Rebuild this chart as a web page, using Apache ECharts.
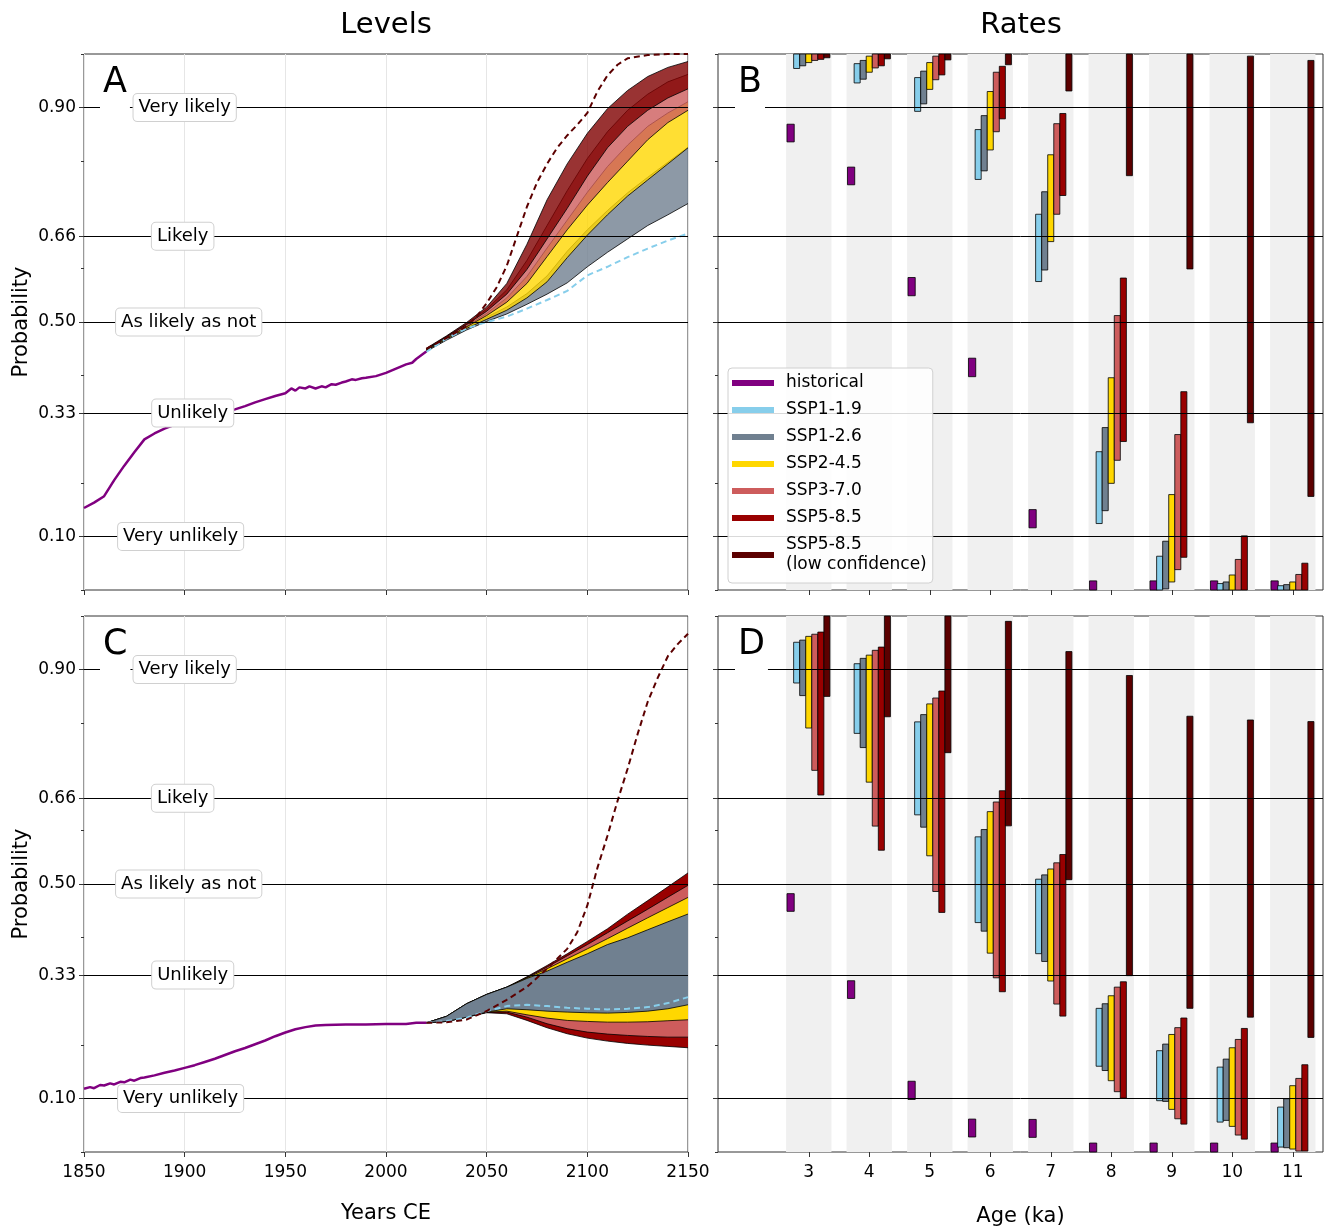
<!DOCTYPE html>
<html>
<head>
<meta charset="utf-8">
<title>Levels and rates</title>
<script src="https://cdn.jsdelivr.net/npm/echarts@6/dist/echarts.min.js"></script>
<style>
  html, body { margin: 0; padding: 0; background: #fff; }
  #chart { width: 1327px; height: 1226px; }
</style>
</head>
<body>
<div id="chart"></div>
<script>
// ---- shared axis values ----
const levelValues = [0.10, 0.33, 0.50, 0.66, 0.90];
const levelNames = ["Very unlikely", "Unlikely", "As likely as not", "Likely", "Very likely"];
const levelLabelYears = [1898, 1904, 1902, 1899, 1900];
const minorTickValues = [0, 0.2, 0.4, 0.6, 0.8, 1.0];
const ages = [3, 4, 5, 6, 7, 8, 9, 10, 11];

// ---- panel A: levels, warming scenario ----
const aHistYears = [1850, 1855, 1860, 1865, 1870, 1875, 1880, 1885, 1890, 1895, 1900, 1905, 1910, 1915, 1920, 1925, 1930, 1935, 1940, 1945, 1950, 1953, 1955, 1957, 1960, 1962, 1965, 1968, 1970, 1973, 1975, 1978, 1980, 1983, 1985, 1988, 1990, 1995, 2000, 2005, 2010, 2013, 2015, 2020];
const aHistValues = [0.153, 0.163, 0.175, 0.205, 0.232, 0.257, 0.281, 0.292, 0.301, 0.308, 0.313, 0.318, 0.323, 0.328, 0.332, 0.337, 0.343, 0.350, 0.356, 0.362, 0.367, 0.376, 0.372, 0.378, 0.376, 0.380, 0.376, 0.380, 0.378, 0.384, 0.383, 0.387, 0.389, 0.393, 0.392, 0.395, 0.396, 0.399, 0.405, 0.413, 0.421, 0.424, 0.431, 0.445];
const projYears = [2020, 2030, 2040, 2050, 2060, 2070, 2080, 2090, 2100, 2110, 2120, 2130, 2140, 2150];
const a119 = [0.444, 0.469, 0.488, 0.500, 0.510, 0.525, 0.541, 0.558, 0.587, 0.603, 0.621, 0.637, 0.652, 0.665];
const a126Lo = [0.445, 0.466, 0.485, 0.501, 0.515, 0.533, 0.552, 0.573, 0.603, 0.630, 0.655, 0.680, 0.700, 0.721];
const a126Hi = [0.447, 0.469, 0.490, 0.509, 0.528, 0.553, 0.586, 0.632, 0.672, 0.708, 0.741, 0.770, 0.798, 0.826];
const a245Lo = [0.447, 0.468, 0.488, 0.505, 0.522, 0.545, 0.575, 0.620, 0.662, 0.700, 0.735, 0.765, 0.795, 0.825];
const a245Hi = [0.449, 0.471, 0.493, 0.516, 0.545, 0.585, 0.638, 0.690, 0.742, 0.790, 0.830, 0.865, 0.890, 0.911];
const a370Lo = [0.448, 0.470, 0.491, 0.512, 0.537, 0.572, 0.622, 0.672, 0.718, 0.760, 0.800, 0.840, 0.872, 0.895];
const a370Hi = [0.450, 0.473, 0.497, 0.524, 0.560, 0.615, 0.680, 0.745, 0.805, 0.855, 0.895, 0.925, 0.948, 0.962];
const a585Lo = [0.449, 0.472, 0.495, 0.520, 0.552, 0.598, 0.655, 0.712, 0.772, 0.825, 0.865, 0.895, 0.918, 0.935];
const a585Hi = [0.451, 0.474, 0.499, 0.528, 0.572, 0.645, 0.728, 0.795, 0.852, 0.898, 0.932, 0.958, 0.975, 0.986];
const aLowConfYears = [2020, 2030, 2040, 2045, 2050, 2055, 2060, 2065, 2070, 2075, 2080, 2085, 2090, 2095, 2100, 2105, 2110, 2115, 2120, 2130, 2140, 2150];
const aLowConf = [0.450, 0.470, 0.492, 0.510, 0.535, 0.565, 0.605, 0.660, 0.715, 0.760, 0.795, 0.825, 0.848, 0.868, 0.890, 0.930, 0.960, 0.980, 0.992, 0.998, 1.0, 1.0];

// ---- panel C: levels, second indicator ----
const cHistYears = [1850, 1853, 1855, 1858, 1860, 1863, 1865, 1868, 1870, 1873, 1875, 1878, 1880, 1885, 1890, 1895, 1900, 1905, 1910, 1915, 1920, 1925, 1930, 1935, 1940, 1945, 1950, 1955, 1960, 1965, 1970, 1980, 1990, 2000, 2010, 2015, 2020];
const cHistValues = [0.118, 0.121, 0.119, 0.125, 0.124, 0.128, 0.126, 0.131, 0.130, 0.135, 0.133, 0.138, 0.139, 0.143, 0.148, 0.152, 0.157, 0.162, 0.168, 0.174, 0.181, 0.188, 0.194, 0.201, 0.208, 0.216, 0.223, 0.229, 0.233, 0.236, 0.237, 0.238, 0.238, 0.239, 0.239, 0.241, 0.241];
const c119 = [0.241, 0.2442, 0.2505, 0.2628, 0.2722, 0.2747, 0.2722, 0.2691, 0.2672, 0.266, 0.2672, 0.2703, 0.2778, 0.2889];
const c126Lo = [0.241, 0.2436, 0.2516, 0.261, 0.2672, 0.2654, 0.2628, 0.261, 0.2598, 0.2591, 0.2604, 0.2628, 0.2672, 0.2747];
const c126Hi = [0.241, 0.253, 0.2766, 0.294, 0.3076, 0.3238, 0.3374, 0.354, 0.3698, 0.387, 0.3996, 0.4146, 0.4295, 0.444];
const c245Lo = [0.241, 0.2436, 0.2516, 0.261, 0.2628, 0.256, 0.2498, 0.2455, 0.2436, 0.2423, 0.2423, 0.243, 0.2449, 0.2467];
const c245Hi = [0.241, 0.253, 0.2766, 0.294, 0.3076, 0.325, 0.3418, 0.3605, 0.379, 0.398, 0.4176, 0.437, 0.456, 0.475];
const c370Lo = [0.241, 0.2436, 0.2516, 0.261, 0.261, 0.2516, 0.2393, 0.23, 0.2237, 0.22, 0.2175, 0.2156, 0.2143, 0.2143];
const c370Hi = [0.241, 0.253, 0.2766, 0.294, 0.3076, 0.326, 0.345, 0.366, 0.387, 0.409, 0.431, 0.453, 0.4754, 0.4975];
const c585Lo = [0.241, 0.2436, 0.2516, 0.2598, 0.2579, 0.2455, 0.2318, 0.2206, 0.2125, 0.2069, 0.2026, 0.1994, 0.197, 0.1945];
const c585Hi = [0.241, 0.253, 0.2766, 0.294, 0.3076, 0.327, 0.348, 0.3698, 0.3928, 0.4164, 0.4437, 0.469, 0.4947, 0.5207];
const cLowConfYears = [2020, 2030, 2040, 2050, 2060, 2070, 2080, 2090, 2095, 2100, 2105, 2110, 2115, 2120, 2125, 2130, 2135, 2140, 2145, 2150];
const cLowConf = [0.241, 0.242, 0.247, 0.263, 0.284, 0.308, 0.342, 0.379, 0.41, 0.46, 0.53, 0.59, 0.655, 0.715, 0.78, 0.84, 0.885, 0.925, 0.948, 0.967];

// ---- panel B: rates, [low, high] per age ----
const bHistorical = [[0.836, 0.869], [0.756, 0.789], [0.549, 0.583], [0.398, 0.4325], [0.116, 0.150], [0, 0.017], [0, 0.017], [0, 0.017], [0, 0.017]];
const bSsp119 = [[0.973, 1.0], [0.946, 0.982], [0.893, 0.956], [0.766, 0.859], [0.5755, 0.701], [0.124, 0.258], [0, 0.063], [0, 0.012], [0, 0.008]];
const bSsp126 = [[0.978, 1.0], [0.953, 0.988], [0.907, 0.968], [0.782, 0.885], [0.597, 0.743], [0.148, 0.303], [0.002, 0.091], [0, 0.015], [0, 0.010]];
const bSsp245 = [[0.984, 1.0], [0.966, 0.996], [0.934, 0.984], [0.821, 0.930], [0.650, 0.812], [0.199, 0.396], [0.015, 0.178], [0, 0.028], [0, 0.015]];
const bSsp370 = [[0.988, 1.0], [0.974, 1.0], [0.952, 0.996], [0.855, 0.966], [0.701, 0.870], [0.242, 0.512], [0.038, 0.290], [0, 0.057], [0, 0.029]];
const bSsp585 = [[0.990, 1.0], [0.978, 1.0], [0.961, 1.0], [0.879, 0.977], [0.736, 0.889], [0.277, 0.582], [0.061, 0.370], [0, 0.101], [0, 0.050]];
const bSsp585Low = [[0.993, 1.0], [0.991, 1.0], [0.989, 1.0], [0.980, 1.0], [0.931, 1.0], [0.773, 1.0], [0.599, 1.0], [0.312, 0.996], [0.1746, 0.988]];

// ---- panel D: rates, [low, high] per age ----
const dHistorical = [[0.449, 0.482], [0.2865, 0.3195], [0.098, 0.132], [0.028, 0.0614], [0.0273, 0.0608], [0, 0.0167], [0, 0.0167], [0, 0.0167], [0, 0.0167]];
const dSsp119 = [[0.875, 0.951], [0.781, 0.911], [0.629, 0.8025], [0.428, 0.588], [0.370, 0.509], [0.160, 0.268], [0.0957, 0.189], [0.0558, 0.1584], [0.0092, 0.0838]];
const dSsp126 = [[0.8515, 0.955], [0.7545, 0.921], [0.606, 0.816], [0.412, 0.6016], [0.3555, 0.517], [0.152, 0.2766], [0.0944, 0.2013], [0.059, 0.1733], [0.008, 0.0994]];
const dSsp245 = [[0.791, 0.962], [0.690, 0.927], [0.5526, 0.836], [0.371, 0.635], [0.319, 0.528], [0.133, 0.2915], [0.0795, 0.2193], [0.0478, 0.1945], [0.0055, 0.1237]];
const dSsp370 = [[0.712, 0.966], [0.608, 0.936], [0.486, 0.847], [0.325, 0.653], [0.276, 0.5395], [0.1125, 0.3076], [0.062, 0.232], [0.0316, 0.21], [0.0017, 0.1373]];
const dSsp585 = [[0.666, 0.970], [0.563, 0.942], [0.447, 0.860], [0.299, 0.674], [0.2535, 0.555], [0.1006, 0.3176], [0.052, 0.25], [0.024, 0.2305], [0.0017, 0.1628]];
const dSsp585Low = [[0.850, 1.0], [0.812, 1.0], [0.745, 1.0], [0.6085, 0.990], [0.508, 0.9336], [0.329, 0.889], [0.268, 0.813], [0.2516, 0.806], [0.2138, 0.803]];

// ---- styling ----
const FONT = "DejaVu Sans";
const AXIS_COLOR = "#333";
const scenarioNames = ["SSP1-1.9", "SSP1-2.6", "SSP2-4.5", "SSP3-7.0", "SSP5-8.5", "SSP5-8.5 (low confidence)"];
const scenarioColors = ["#87ceeb", "#708090", "#ffd700", "#cd5c5c", "#990000", "#5c0000"];
const histColor = "#800080";
const barOffsets = [-0.2, -0.1, 0, 0.1, 0.2, 0.3];
const histOffset = -0.3;

const chart = echarts.init(document.getElementById("chart"));

function pairs(xs, ys) {
  return xs.map((x, i) => [x, ys[i]]);
}

function lineSeries(name, grid, xs, ys, color, width, type, z) {
  return {
    name, type: "line", xAxisIndex: grid, yAxisIndex: grid,
    data: pairs(xs, ys), symbol: "none", silent: true, z, smooth: false,
    lineStyle: { color, width, type },
  };
}

// Filled band between lo and hi, drawn once as a polygon with black edges.
function bandSeries(grid, lo, hi, color, opacity) {
  return {
    type: "custom", xAxisIndex: grid, yAxisIndex: grid, silent: true, z: 2, clip: true,
    data: projYears.map((x, i) => [x, lo[i], hi[i]]),
    encode: { x: 0, y: [1, 2] },
    renderItem: (params, api) => {
      if (params.dataIndex !== 0) return null;
      const top = projYears.map((x, i) => api.coord([x, hi[i]]));
      const bottom = projYears.map((x, i) => api.coord([x, lo[i]]));
      return {
        type: "group",
        children: [
          { type: "polygon", shape: { points: top.concat(bottom.slice().reverse()) }, style: { fill: color, opacity } },
          { type: "polyline", shape: { points: top }, style: { stroke: "#000", lineWidth: 0.8, fill: null } },
          { type: "polyline", shape: { points: bottom }, style: { stroke: "#000", lineWidth: 0.8, fill: null } },
        ],
      };
    },
  };
}

// Floating [low, high] bar drawn through the axes.
function rangeSeries(name, grid, ranges, color, offset, width) {
  return {
    name, type: "custom", xAxisIndex: grid, yAxisIndex: grid, silent: true, z: 3,
    itemStyle: { color },
    data: ranges.map((r, i) => [ages[i], r[0], r[1]]),
    encode: { x: 0, y: [1, 2] },
    renderItem: (params, api) => {
      const a = api.value(0);
      const p1 = api.coord([a + offset - width / 2, api.value(2)]);
      const p2 = api.coord([a + offset + width / 2, api.value(1)]);
      return {
        type: "rect",
        shape: { x: p1[0], y: p1[1], width: p2[0] - p1[0], height: p2[1] - p1[1] },
        style: { fill: color, stroke: "rgba(0,0,0,0.8)", lineWidth: 1 },
      };
    },
  };
}

function levelLines(grid) {
  return {
    type: "line", xAxisIndex: grid, yAxisIndex: grid, data: [], silent: true, z: 1,
    markLine: {
      silent: true, symbol: ["none", "none"], label: { show: false },
      lineStyle: { color: "#000", width: 1, type: "solid" },
      emphasis: { disabled: true },
      data: levelValues.map((v) => ({ yAxis: v })),
    },
  };
}

function ageBands(grid) {
  return {
    type: "line", xAxisIndex: grid, yAxisIndex: grid, data: [], silent: true, z: 0,
    markArea: {
      silent: true, label: { show: false },
      itemStyle: { color: "#f0f0f0" },
      data: ages.map((a) => [{ xAxis: a - 0.375 }, { xAxis: a + 0.375 }]),
    },
  };
}

function levelLabels(grid) {
  return {
    type: "scatter", xAxisIndex: grid, yAxisIndex: grid, silent: true, z: 10,
    symbolSize: 1, itemStyle: { color: "rgba(0,0,0,0)" },
    data: levelValues.map((v, i) => ({ value: [levelLabelYears[i], v], label: { formatter: levelNames[i] } })),
    label: {
      show: true, position: "inside", color: "#000", opacity: 1, fontFamily: FONT, fontSize: 18,
      backgroundColor: "#fff", borderColor: "#d0d0d0", borderWidth: 1, borderRadius: 4, padding: [5, 5, 4, 5],
    },
  };
}

function yearAxis(grid, showLabels) {
  return {
    type: "value", gridIndex: grid, min: 1850, max: 2150, interval: 50,
    axisLine: { show: false },
    axisTick: { show: true, length: 5, lineStyle: { color: AXIS_COLOR } },
    axisLabel: { show: showLabels, formatter: (v) => String(v), fontFamily: FONT, fontSize: 17, color: "#000", margin: 12, showMinLabel: true, showMaxLabel: true },
    splitLine: { show: true, lineStyle: { color: "#e6e6e6", width: 1 } },
    name: showLabels ? "Years CE" : "", nameLocation: "middle", nameGap: 51,
    nameTextStyle: { fontFamily: FONT, fontSize: 21, color: "#000" },
  };
}

function ageAxis(grid, showLabels) {
  return {
    type: "value", gridIndex: grid, min: 1.5, max: 11.5,
    axisLine: { show: false },
    axisTick: { show: true, length: 5, customValues: ages, lineStyle: { color: AXIS_COLOR } },
    axisLabel: { show: showLabels, customValues: ages, fontFamily: FONT, fontSize: 17, color: "#000", margin: 12 },
    splitLine: { show: false },
    name: showLabels ? "Age (ka)" : "", nameLocation: "middle", nameGap: 54,
    nameTextStyle: { fontFamily: FONT, fontSize: 21, color: "#000" },
  };
}

function probAxis(grid, showLabels) {
  return {
    type: "value", gridIndex: grid, min: 0, max: 1, position: "left",
    axisLine: { show: false },
    axisTick: { show: true, length: 5, customValues: levelValues, lineStyle: { color: AXIS_COLOR } },
    axisLabel: { show: showLabels, customValues: levelValues, formatter: (v) => v.toFixed(2), fontFamily: FONT, fontSize: 17, color: "#000", margin: 8 },
    splitLine: { show: false },
    name: showLabels ? "Probability" : "", nameLocation: "middle", nameGap: 52, nameRotate: 90,
    nameTextStyle: { fontFamily: FONT, fontSize: 21, color: "#000" },
  };
}

function minorAxis(grid) {
  return {
    type: "value", gridIndex: grid, min: 0, max: 1, position: "left",
    axisLine: { show: false },
    axisTick: { show: true, length: 3, customValues: minorTickValues, lineStyle: { color: AXIS_COLOR } },
    axisLabel: { show: false }, splitLine: { show: false },
  };
}

function panelLetter(text, x, y) {
  return {
    type: "text", x, y, z: 100,
    style: {
      text, fill: "#000", fontFamily: FONT, fontSize: 35, lineHeight: 38,
      align: "left", verticalAlign: "top", textAlign: "left", textVerticalAlign: "top",
      backgroundColor: "#fff", padding: [3, 3, 8, 3],
    },
  };
}

function title(text, x) {
  return {
    type: "text", x, y: 25, z: 100,
    style: {
      text, fill: "#000", fontFamily: FONT, fontSize: 29,
      align: "center", verticalAlign: "middle", textAlign: "center", textVerticalAlign: "middle",
    },
  };
}

const gridBase = { show: true, borderColor: AXIS_COLOR, borderWidth: 1, backgroundColor: "transparent", containLabel: false, outerBoundsMode: "none" };

const series = [
  // Panel A (translucent bands, later ones on top)
  levelLines(0),
  bandSeries(0, a126Lo, a126Hi, scenarioColors[1], 0.8),
  bandSeries(0, a245Lo, a245Hi, scenarioColors[2], 0.8),
  bandSeries(0, a370Lo, a370Hi, scenarioColors[3], 0.8),
  bandSeries(0, a585Lo, a585Hi, "#800000", 0.8),
  lineSeries("SSP1-1.9", 0, projYears, a119, scenarioColors[0], 2, [6, 4], 4),
  lineSeries("SSP5-8.5 (low confidence)", 0, aLowConfYears, aLowConf, scenarioColors[5], 2, [6, 4], 4),
  lineSeries("historical", 0, aHistYears, aHistValues, histColor, 2.5, "solid", 4),
  levelLabels(0),
  // Panel C (opaque nested bands, widest first)
  levelLines(2),
  bandSeries(2, c585Lo, c585Hi, scenarioColors[4], 1),
  bandSeries(2, c370Lo, c370Hi, scenarioColors[3], 1),
  bandSeries(2, c245Lo, c245Hi, scenarioColors[2], 1),
  bandSeries(2, c126Lo, c126Hi, scenarioColors[1], 1),
  lineSeries("SSP1-1.9", 2, projYears, c119, scenarioColors[0], 2, [6, 4], 4),
  lineSeries("SSP5-8.5 (low confidence)", 2, cLowConfYears, cLowConf, scenarioColors[5], 2, [6, 4], 4),
  lineSeries("historical", 2, cHistYears, cHistValues, histColor, 2.5, "solid", 4),
  levelLabels(2),
  // Panel B
  ageBands(1),
  levelLines(1),
  rangeSeries("historical", 1, bHistorical, histColor, histOffset, 0.12),
  ...[bSsp119, bSsp126, bSsp245, bSsp370, bSsp585, bSsp585Low].map((r, k) =>
    rangeSeries(scenarioNames[k], 1, r, scenarioColors[k], barOffsets[k], 0.1)),
  // Panel D
  ageBands(3),
  levelLines(3),
  rangeSeries("historical", 3, dHistorical, histColor, histOffset, 0.12),
  ...[dSsp119, dSsp126, dSsp245, dSsp370, dSsp585, dSsp585Low].map((r, k) =>
    rangeSeries(scenarioNames[k], 3, r, scenarioColors[k], barOffsets[k], 0.1)),
];

const option = {
  animation: false,
  backgroundColor: "#fff",
  textStyle: { fontFamily: FONT },
  grid: [
    { ...gridBase, left: 84, top: 54, width: 604, height: 536 },
    { ...gridBase, left: 718, top: 54, width: 605, height: 536 },
    { ...gridBase, left: 84, top: 616, width: 604, height: 536 },
    { ...gridBase, left: 718, top: 616, width: 605, height: 536 },
  ],
  xAxis: [yearAxis(0, false), ageAxis(1, false), yearAxis(2, true), ageAxis(3, true)],
  yAxis: [probAxis(0, true), probAxis(1, false), probAxis(2, true), probAxis(3, false),
          minorAxis(0), minorAxis(1), minorAxis(2), minorAxis(3)],
  legend: {
    left: 728, top: 368, orient: "vertical", z: 20, selectedMode: false,
    backgroundColor: "rgba(255,255,255,0.85)", borderColor: "#d0d0d0", borderWidth: 1, borderRadius: 4,
    padding: [5, 6, 8, 4], itemWidth: 42, itemHeight: 6, itemGap: 7,
    textStyle: { fontFamily: FONT, fontSize: 17, color: "#000", lineHeight: 20, padding: [0, 0, 0, 7] },
    formatter: (n) => n.replace(" (", "\n("),
    data: [{ name: "historical", icon: "rect", itemStyle: { color: histColor } }].concat(
      scenarioNames.map((n, k) => ({ name: n, icon: "rect", itemStyle: { color: scenarioColors[k] } }))),
  },
  graphic: [
    title("Levels", 386), title("Rates", 1021),
    panelLetter("A", 100, 61), panelLetter("B", 735, 61),
    panelLetter("C", 100, 623), panelLetter("D", 735, 623),
  ],
  series,
};

// Set the chart's configuration options and render it.
chart.setOption(option);
</script>
</body>
</html>
